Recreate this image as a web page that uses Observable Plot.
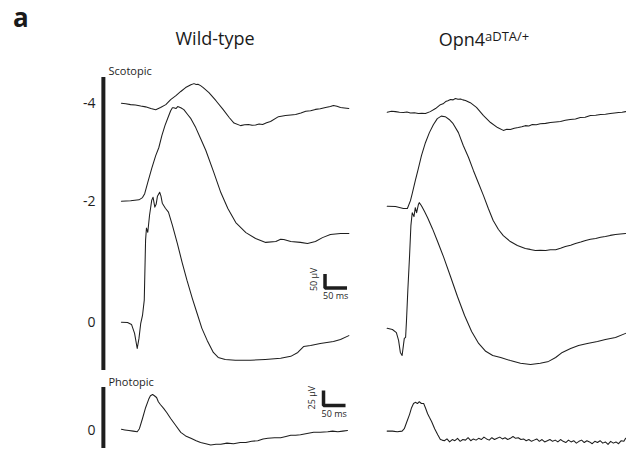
<!DOCTYPE html>
<html><head><meta charset="utf-8">
<script src="https://cdn.jsdelivr.net/npm/d3@7"></script>
<script src="https://cdn.jsdelivr.net/npm/@observablehq/plot@0.6"></script>
<style>
html,body{margin:0;padding:0;background:#fff;}
#fig{position:relative;width:626px;height:450px;overflow:hidden;font-family:"Open Sans",sans-serif;color:#1a1a1a;}
#fig svg{position:absolute;left:0;}
.t{position:absolute;white-space:nowrap;line-height:1;}
sup{font-size:13px;vertical-align:0.42em;line-height:0;}
</style></head><body>
<div id="fig">
  <div class="t" style="left:13px;top:4px;font-weight:bold;font-size:26px">a</div>
  <div class="t" style="left:215px;top:29px;font-size:18px;transform:translateX(-50%)">Wild-type</div>
  <div class="t" style="left:484px;top:30px;font-size:18px;transform:translateX(-50%)">Opn4<sup>aDTA/+</sup></div>
</div>
<script>
// ---- data (time in ms from trace start, amplitude in µV) ----
const genotypes = ["Wild-type", "Opn4aDTA/+"];
const scotopicIntensities = ["-4", "-2", "0"];
const photopicIntensities = ["0"];

const wtScotM4 = [[0,0],[10,-2],[21,-5],[32,-6],[44,-10],[55,-13],[67,-19],[78,-23],[89,-15],[101,-5],[112,13],[124,27],[135,42],[146,56],[158,66],[165,70],[170,67],[174,68],[180,63],[186,56],[199,38],[215,9],[231,-22],[245,-51],[256,-71],[271,-80],[280,-77],[289,-76],[297,-79],[305,-78],[313,-74],[321,-76],[330,-70],[339,-65],[357,-48],[373,-44],[385,-42],[396,-40],[408,-35],[419,-29],[430,-27],[441,-22],[452,-20],[464,-15],[475,-12],[482,-8],[490,-11],[498,-15],[507,-17],[517,-19]];
const wtScotM2 = [[0,0],[21,2],[40,5],[48,13],[53,27],[60,67],[69,117],[78,163],[85,191],[92,234],[99,270],[106,299],[112,323],[116,334],[119,334],[124,331],[128,338],[135,334],[142,327],[151,309],[158,295],[169,263],[180,224],[192,181],[210,103],[226,31],[242,-26],[260,-76],[283,-112],[305,-133],[328,-147],[351,-144],[362,-136],[369,-137],[385,-144],[407,-147],[423,-151],[441,-144],[457,-130],[475,-119],[498,-115],[517,-115]];
const wtScotZero = [[0,0],[14,-1],[23,-8],[30,-40],[36,-94],[40,-58],[44,-4],[48,24],[52,79],[55,293],[57,336],[60,321],[64,382],[69,436],[72,446],[76,411],[79,421],[82,450],[87,464],[90,450],[93,425],[100,407],[107,393],[116,346],[127,282],[138,214],[149,150],[161,86],[172,32],[183,-22],[195,-65],[209,-108],[220,-126],[236,-133],[259,-136],[293,-136],[327,-133],[362,-129],[385,-122],[401,-108],[414,-87],[430,-83],[452,-76],[482,-69],[498,-62],[517,-48]];
const wtPhotZero = [[0,2],[8,1],[17,0],[27,-1],[36,-2],[41,3],[48,20],[55,38],[62,52],[66,58],[71,60],[75,58],[80,55],[84,48],[89,43],[96,37],[103,30],[112,20],[124,8],[135,-3],[146,-9],[158,-13],[170,-17],[180,-20],[192,-22],[203,-24],[215,-23],[226,-23],[240,-21],[255,-22],[270,-20],[283,-20],[296,-18],[310,-17],[322,-14],[333,-13],[348,-12],[362,-12],[374,-10],[385,-8],[396,-8],[407,-7],[422,-5],[437,-3],[452,-3],[469,-2],[480,-1],[492,-2],[503,-1],[514,0]];

const koScotM4 = [[0,-32],[10,-29],[19,-30],[28,-32],[37,-33],[45,-31],[53,-35],[62,-34],[71,-37],[79,-36],[87,-37],[98,-30],[110,-19],[121,-5],[127,-2],[133,6],[138,9],[144,13],[150,12],[155,17],[161,14],[167,15],[172,12],[178,10],[189,2],[203,-15],[219,-44],[235,-69],[251,-87],[264,-97],[272,-93],[280,-94],[289,-89],[298,-87],[306,-84],[314,-80],[322,-81],[330,-76],[339,-77],[348,-73],[360,-72],[371,-69],[383,-67],[394,-65],[405,-61],[416,-58],[428,-56],[439,-51],[450,-50],[462,-44],[474,-43],[485,-40],[496,-39],[507,-37],[517,-35],[526,-33],[534,-32],[542,-30]];
const koScotM2 = [[0,-18],[19,-19],[37,-26],[46,-26],[53,2],[57,27],[64,74],[71,117],[78,163],[87,209],[96,245],[105,273],[114,295],[123,304],[132,302],[141,292],[150,277],[162,245],[173,199],[185,156],[196,110],[207,67],[219,20],[230,-26],[241,-69],[253,-101],[264,-123],[280,-144],[296,-158],[314,-169],[325,-172],[337,-176],[348,-175],[360,-176],[371,-173],[383,-173],[394,-168],[405,-162],[417,-157],[428,-151],[440,-146],[451,-140],[462,-136],[474,-133],[485,-129],[496,-126],[507,-122],[519,-119],[530,-117],[542,-115]];
const koScotZero = [[0,-22],[12,-26],[21,-37],[26,-65],[30,-108],[34,-119],[37,-83],[39,-58],[42,-54],[44,6],[47,113],[51,238],[54,345],[57,391],[61,377],[64,409],[67,391],[71,420],[73,427],[78,416],[85,395],[92,373],[103,334],[114,291],[128,234],[144,163],[160,91],[176,24],[192,-33],[208,-76],[224,-104],[240,-119],[258,-126],[280,-137],[303,-147],[326,-151],[348,-147],[367,-140],[383,-126],[398,-108],[417,-94],[435,-83],[455,-76],[478,-69],[496,-62],[519,-55],[542,-40]];
const koPhotZero = [[0,-1],[12,-1],[23,-2],[34,-1],[39,3],[45,15],[51,27],[55,37],[60,45],[64,47],[69,45],[73,48],[78,45],[83,45],[87,38],[92,28],[96,22],[101,15],[108,3],[115,-7],[121,-15],[125,-16],
  [130,-17],[136,-14],[142,-19],[148,-15],[154,-17],[160,-13],[166,-18],[172,-15],[178,-16],[184,-12],[190,-17],[196,-14],[202,-16],[208,-13],[214,-15],[220,-11],[226,-14],[232,-16],[238,-12],[244,-15],[250,-13],[256,-11],[262,-14],[268,-12],[274,-15],[280,-13],[286,-10],[292,-13],[298,-12],[304,-15],[310,-14],[316,-17],[322,-15],[328,-18],[334,-16],[340,-14],[346,-18],[352,-15],[358,-19],[364,-17],[370,-15],[376,-18],[382,-16],[388,-19],[394,-15],[400,-18],[406,-20],[412,-16],[418,-19],[424,-17],[430,-21],[436,-18],[442,-16],[448,-20],[454,-17],[460,-19],[466,-22],[472,-18],[478,-20],[484,-17],[490,-21],[496,-19],[502,-23],[508,-18],[514,-21],[520,-19],[526,-22],[532,-17],[538,-18],[542,-13]];

const scaleBarScotopic = {ms: 50, uV: 50};
const scaleBarPhotopic = {ms: 50, uV: 25};

// ---- build tables ----
const traces = [
  {genotype: genotypes[0], protocol: "scotopic", intensity: "-4", pts: wtScotM4},
  {genotype: genotypes[0], protocol: "scotopic", intensity: "-2", pts: wtScotM2},
  {genotype: genotypes[0], protocol: "scotopic", intensity: "0", pts: wtScotZero},
  {genotype: genotypes[0], protocol: "photopic", intensity: "0", pts: wtPhotZero},
  {genotype: genotypes[1], protocol: "scotopic", intensity: "-4", pts: koScotM4},
  {genotype: genotypes[1], protocol: "scotopic", intensity: "-2", pts: koScotM2},
  {genotype: genotypes[1], protocol: "scotopic", intensity: "0", pts: koScotZero},
  {genotype: genotypes[1], protocol: "photopic", intensity: "0", pts: koPhotZero}
];
const rows = traces.flatMap(tr => tr.pts.map(([t, v]) => ({genotype: tr.genotype, protocol: tr.protocol, intensity: tr.intensity, t, v})));

// layout: column start (ms on shared x axis), row offsets (µV on each y axis)
const columnStart = {[genotypes[0]]: 0, [genotypes[1]]: 604};
const rowOffset = {"-4": 782, "-2": 432, "0": 0};
const ink = "#1e1e1e";
const xOpts = {domain: [-2, 1148], axis: null};
const common = {width: 626, marginLeft: 120, marginRight: 0, marginTop: 0, marginBottom: 0,
  style: {fontFamily: "Open Sans", color: ink, background: "transparent", overflow: "visible"}};

function scaleBar(bar, at, fs, dxV, dyV, dyH) {
  const [t0, v0] = at;
  return [
    Plot.line([[t0, v0 + bar.uV], [t0, v0], [t0 + bar.ms, v0]], {stroke: ink, strokeWidth: 3.5, strokeLinejoin: "miter", strokeLinecap: "butt"}),
    Plot.text([`${bar.uV} µV`], {x: t0, y: v0, dx: dxV, dy: dyV, rotate: -90, textAnchor: "start", fontSize: fs, fill: ink}),
    Plot.text([`${bar.ms} ms`], {x: t0, y: v0, dx: -2, dy: dyH, textAnchor: "start", fontSize: fs, fill: ink})
  ];
}

const scot = Plot.plot({
  ...common, height: 375,
  x: xOpts,
  y: {domain: [-190.4, 1148.9], axis: null},
  marks: [
    Plot.ruleX([0], {dx: -18, insetTop: 77, insetBottom: 5, strokeWidth: 4, stroke: ink}),
    Plot.text(["Scotopic"], {frameAnchor: "top-left", dx: -12, dy: 67, lineAnchor: "top", textAnchor: "start", fontSize: 11, fill: ink}),
    Plot.text(scotopicIntensities, {y: d => rowOffset[d], text: d => d, frameAnchor: "left", dx: -25, textAnchor: "end", fontSize: 14, fill: ink}),
    Plot.line(rows.filter(d => d.protocol === "scotopic"), {
      x: d => d.t + columnStart[d.genotype], y: d => d.v + rowOffset[d.intensity],
      z: d => d.genotype + d.intensity, stroke: ink, strokeWidth: 1.05, curve: "linear"}),
    ...scaleBar(scaleBarScotopic, [462.8, 121.8], 9, -11, 3, 8.5)
  ]
});
scot.style.top = "0px";

const phot = Plot.plot({
  ...common, height: 75,
  x: xOpts,
  y: {domain: [-33.3, 91.7], axis: null},
  marks: [
    Plot.ruleX([0], {dx: -18, insetTop: 12, insetBottom: 2, strokeWidth: 4, stroke: ink}),
    Plot.text(["Photopic"], {frameAnchor: "top-left", dx: -12, dy: 3, lineAnchor: "top", textAnchor: "start", fontSize: 11, fill: ink}),
    Plot.text(photopicIntensities, {y: d => rowOffset[d], text: d => d, frameAnchor: "left", dx: -25, textAnchor: "end", fontSize: 14, fill: ink}),
    Plot.line(rows.filter(d => d.protocol === "photopic"), {
      x: d => d.t + columnStart[d.genotype], y: d => d.v,
      z: d => d.genotype, stroke: ink, strokeWidth: 1.05}),
    ...scaleBar(scaleBarPhotopic, [459.4, 41.7], 9, -11, 4, 9)
  ]
});
phot.style.top = "375px";

document.getElementById("fig").append(scot, phot);
</script>
</body></html>
